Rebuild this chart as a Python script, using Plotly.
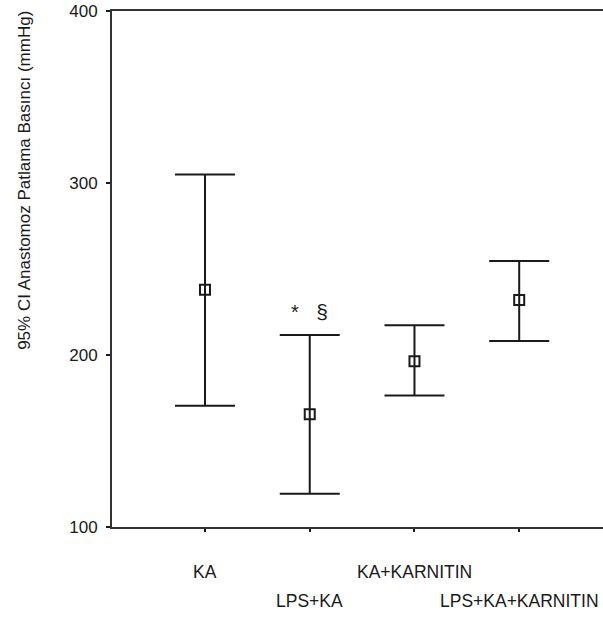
import plotly.graph_objects as go

# Group labels and 95% CI summaries of anastomotic bursting pressure (mmHg)
groups = ["KA", "LPS+KA", "KA+KARNITIN", "LPS+KA+KARNITIN"]
means = [238, 165.5, 196.3, 232]
ci_upper = [305, 211.6, 217.3, 254.6]
ci_lower = [170.5, 119.4, 176.5, 208.2]

y_ticks = [100, 200, 300, 400]

positions = list(range(len(groups)))
err_plus = [u - m for u, m in zip(ci_upper, means)]
err_minus = [m - l for m, l in zip(means, ci_lower)]

ink = "#1a1a1a"
font_family = "Arial, Liberation Sans, sans-serif"

fig = go.Figure()
fig.add_trace(go.Scatter(
    x=positions,
    y=means,
    mode="markers",
    marker=dict(symbol="square-open", size=10, color=ink, line=dict(width=2, color=ink)),
    error_y=dict(
        type="data",
        symmetric=False,
        array=err_plus,
        arrayminus=err_minus,
        color=ink,
        thickness=2,
        width=30,
    ),
    showlegend=False,
    hoverinfo="skip",
))

# Significance marks above LPS+KA
fig.add_annotation(
    x=positions[1], y=ci_upper[1], yref="y", xref="x",
    text="<span style='font-size:20px'>*</span>&nbsp;&nbsp;&nbsp;§",
    showarrow=False,
    yshift=24, font=dict(family=font_family, size=21, color=ink),
)

# Staggered category labels below the axis
for i, g in enumerate(groups):
    fig.add_annotation(
        x=positions[i], xref="x", y=0, yref="paper",
        text=g, showarrow=False,
        yanchor="middle",
        yshift=-45 if i % 2 == 0 else -74,
        font=dict(family=font_family, size=17.5, color=ink),
    )

# Y axis title
fig.add_annotation(
    x=-0.178, xref="paper", y=0.672, yref="paper",
    text="95% CI Anastomoz Patlama Basıncı (mmHg)",
    textangle=-90, showarrow=False,
    xanchor="center", yanchor="middle",
    font=dict(family=font_family, size=17, color=ink),
)

fig.update_xaxes(
    range=[-0.888, 3.80],
    tickmode="array", tickvals=positions, showticklabels=False,
    ticks="outside", ticklen=3, tickwidth=1.5, tickcolor=ink,
    showline=True, linewidth=2, linecolor="#333333", mirror=True,
    showgrid=False, zeroline=False,
)
fig.update_yaxes(
    range=[100, 400],
    tickmode="array", tickvals=y_ticks,
    ticks="outside", ticklen=4, tickwidth=1.5, tickcolor=ink,
    ticklabelstandoff=5,
    tickfont=dict(family=font_family, size=17, color=ink),
    showline=True, linewidth=2, linecolor="#333333",
    showgrid=False, zeroline=False,
)

fig.update_layout(
    width=603, height=617,
    margin=dict(l=112, r=0, t=11, b=90),
    paper_bgcolor="white", plot_bgcolor="white",
    font=dict(family=font_family, color=ink),
)

fig.write_html("out.html")
